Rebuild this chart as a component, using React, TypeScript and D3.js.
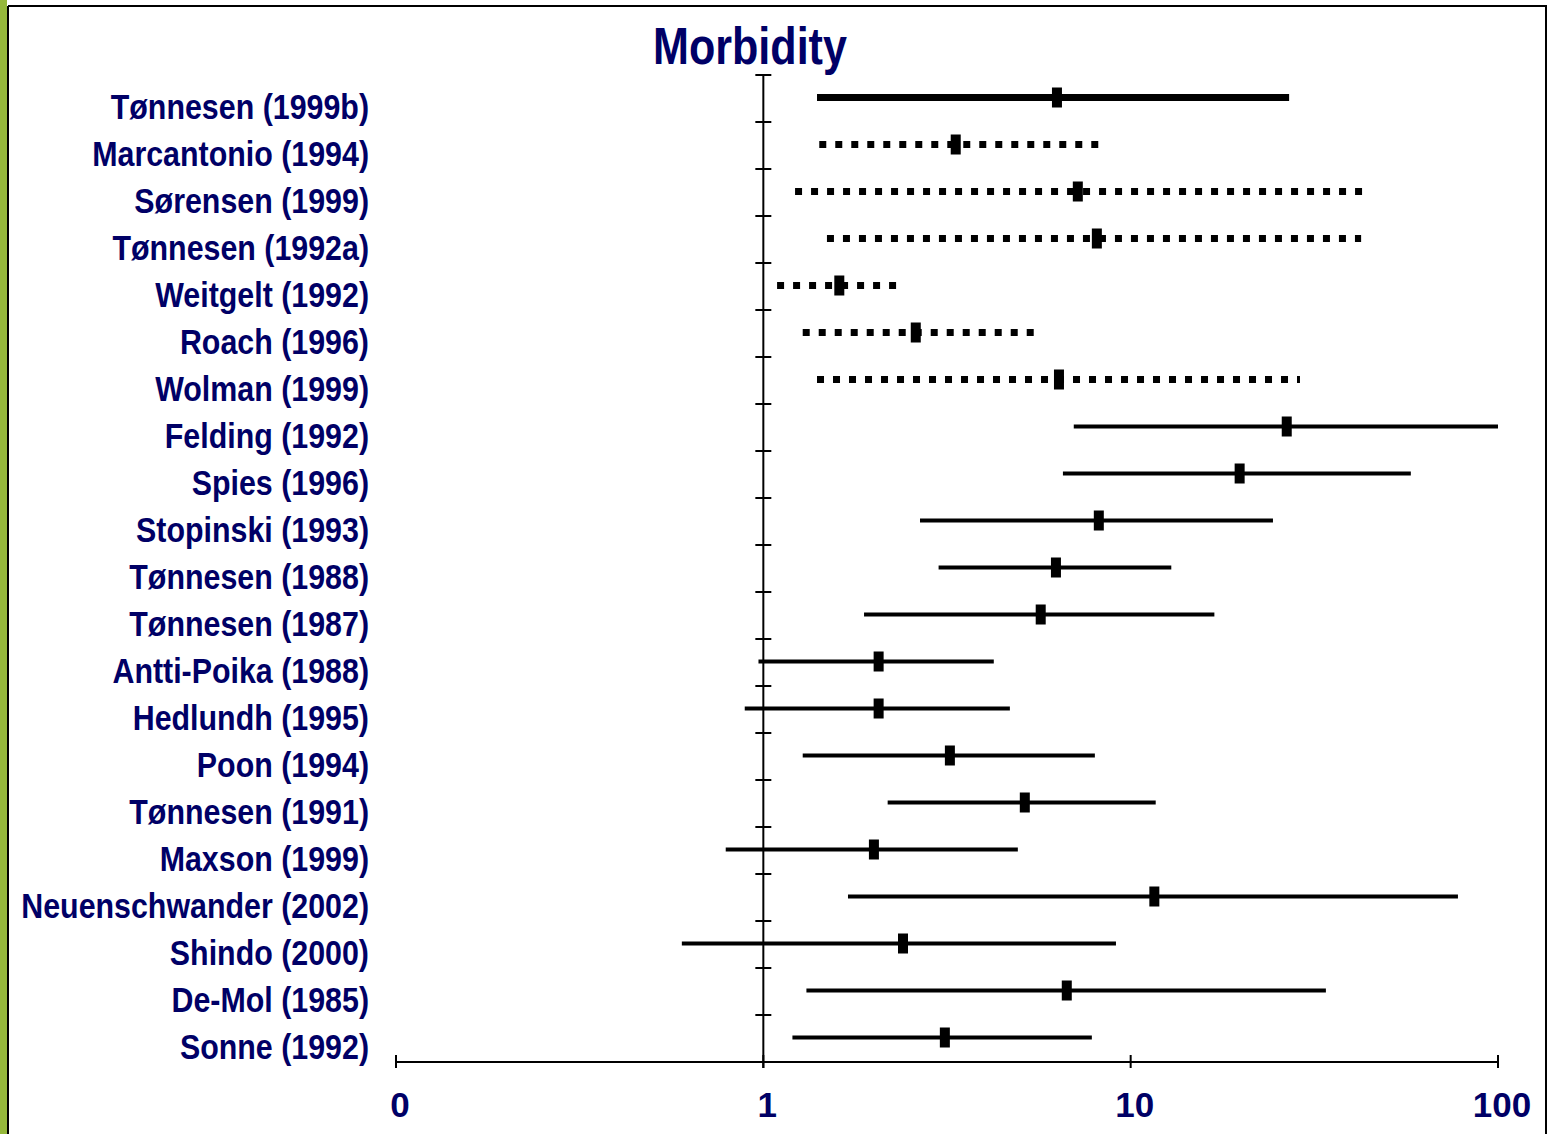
import React from 'react';
import * as d3 from 'd3';

const studies = [
  'Tønnesen (1999b)', 'Marcantonio (1994)', 'Sørensen (1999)', 'Tønnesen (1992a)',
  'Weitgelt (1992)', 'Roach (1996)', 'Wolman (1999)', 'Felding (1992)', 'Spies (1996)',
  'Stopinski (1993)', 'Tønnesen (1988)', 'Tønnesen (1987)', 'Antti-Poika (1988)',
  'Hedlundh (1995)', 'Poon (1994)', 'Tønnesen (1991)', 'Maxson (1999)',
  'Neuenschwander (2002)', 'Shindo (2000)', 'De-Mol (1985)', 'Sonne (1992)',
];
const estimates = [6.3, 3.34, 7.18, 8.09, 1.61, 2.6, 6.38, 26.6, 19.8, 8.19, 6.26, 5.69, 2.06, 2.06, 3.22, 5.15, 2.0, 11.6, 2.4, 6.7, 3.12];
const lowers = [1.4, 1.42, 1.22, 1.49, 1.09, 1.28, 1.4, 7.0, 6.54, 2.67, 3.0, 1.88, 0.97, 0.89, 1.28, 2.18, 0.79, 1.7, 0.6, 1.31, 1.2];
const uppers = [27.0, 8.3, 42.9, 42.4, 2.31, 5.49, 28.9, 100, 57.9, 24.4, 12.9, 16.9, 4.24, 4.69, 7.99, 11.7, 4.93, 77.8, 9.12, 34.0, 7.84];
// thick = heavy solid line, dotted = square-dotted line, thin = normal solid
const lineKinds = ['thick', 'dotted', 'dotted', 'dotted', 'dotted', 'dotted', 'dotted',
  'thin', 'thin', 'thin', 'thin', 'thin', 'thin', 'thin', 'thin', 'thin', 'thin', 'thin', 'thin', 'thin', 'thin'];
const tickValues = [0.1, 1, 10, 100];
const tickLabels = ['0', '1', '10', '100'];

const W = 1554;
const H = 1134;
const NAVY = '#000066';
const FONT = '"Liberation Sans", Arial, sans-serif';

export default function App() {
  const x = d3.scaleLog().domain([0.1, 100]).range([396, 1498]);
  const y = d3.scaleBand<number>().domain(d3.range(studies.length)).range([75, 1062]);
  const bw = y.bandwidth();
  const axisX = x(1);
  const axisY = 1062;
  const bounds = d3.range(studies.length + 1).map((i) => 75 + i * bw);

  return (
    <svg width={W} height={H} style={{ position: 'absolute', left: 0, top: 0, display: 'block', background: '#fff' }}>
      {/* frame */}
      <rect x={0} y={0} width={7} height={H} fill="#95b83b" />
      <line x1={8} y1={6} x2={8} y2={H} stroke="#000" strokeWidth={2} />
      <line x1={8} y1={6} x2={1547} y2={6} stroke="#000" strokeWidth={2} />
      <line x1={1546} y1={6} x2={1546} y2={H} stroke="#000" strokeWidth={2} />

      {/* title */}
      <g transform="translate(750,64) scale(0.845,1)">
        <text textAnchor="middle" fontFamily={FONT} fontWeight="bold" fontSize={51} fill={NAVY}>Morbidity</text>
      </g>

      {/* study labels */}
      {studies.map((s, i) => (
        <g key={s} transform={`translate(369,${(y(i) ?? 0) + bw / 2 + 20}) scale(0.868,1)`}>
          <text textAnchor="end" fontFamily={FONT} fontWeight="bold" fontSize={35} fill={NAVY}>{s}</text>
        </g>
      ))}

      {/* vertical axis at 1 */}
      <line x1={axisX} y1={75} x2={axisX} y2={1068} stroke="#000" strokeWidth={2} />
      {bounds.slice(0, -1).map((b, i) => (
        <line key={i} x1={axisX - 8} x2={axisX + 8} y1={b} y2={b} stroke="#000" strokeWidth={2} />
      ))}

      {/* horizontal axis */}
      <line x1={x(0.1)} y1={axisY} x2={x(100)} y2={axisY} stroke="#000" strokeWidth={2} />
      {tickValues.map((t, i) => (
        <g key={t}>
          <line x1={x(t)} x2={x(t)} y1={axisY - 7} y2={axisY + 6} stroke="#000" strokeWidth={2} />
          <text x={x(t) + 4} y={1117} textAnchor="middle" fontFamily={FONT} fontWeight="bold" fontSize={35} fill={NAVY}>
            {tickLabels[i]}
          </text>
        </g>
      ))}

      {/* confidence intervals */}
      {studies.map((s, i) => {
        const cy = (y(i) ?? 0) + bw / 2 - 1;
        const kind = lineKinds[i];
        const sw = kind === 'thin' ? 4 : 7;
        return (
          <g key={s}>
            <line
              x1={x(lowers[i])}
              x2={x(uppers[i])}
              y1={cy}
              y2={cy}
              stroke="#000"
              strokeWidth={sw}
              strokeDasharray={kind === 'dotted' ? '7 9' : undefined}
            />
            <rect x={x(estimates[i]) - 5} y={cy - 10} width={10} height={20} fill="#000" />
          </g>
        );
      })}
    </svg>
  );
}
